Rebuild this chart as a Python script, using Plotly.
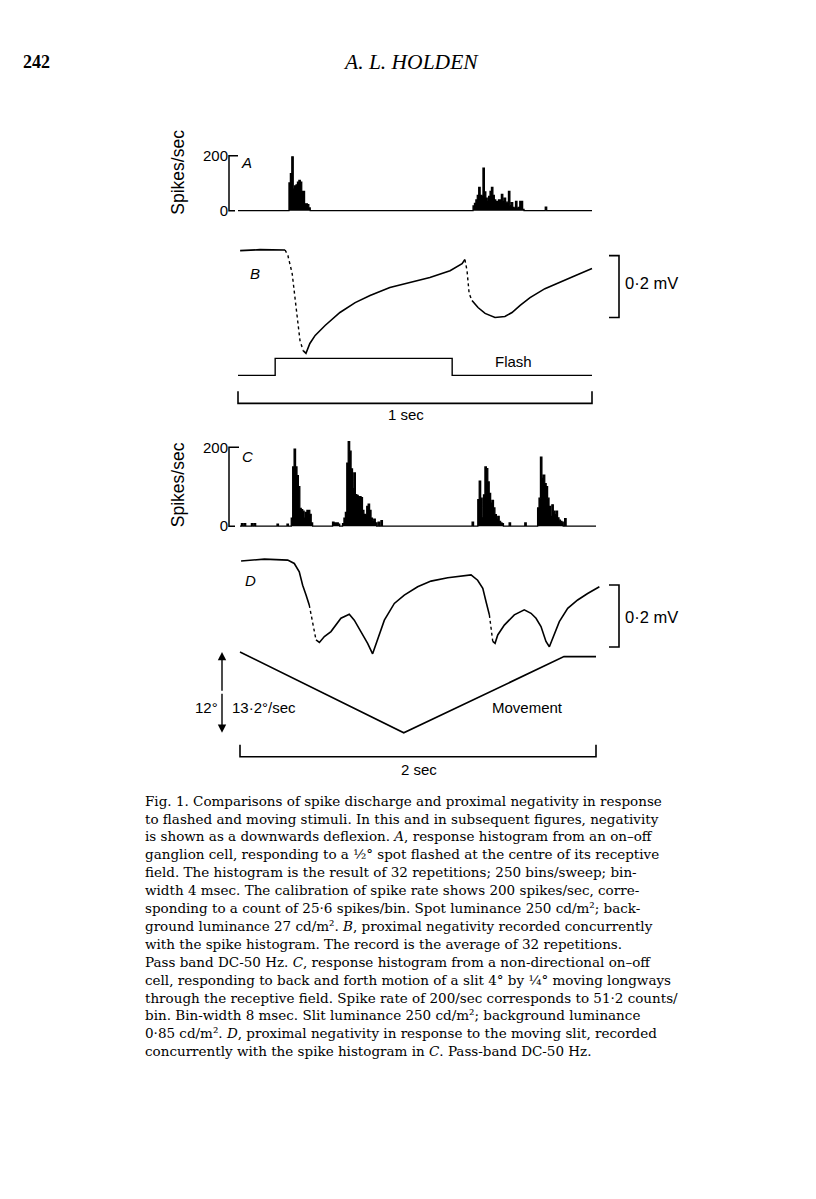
import plotly.graph_objects as go

W, H = 816, 1199

# ---------------- data ----------------
# A: response histogram to a flashed spot (4 ms bins, 250 bins/sweep), spikes/sec
A_BIN_S = 0.004
A_NBINS = 250
A_bins = [36, 37, 38, 39, 40, 41, 42, 43, 44, 45, 46, 47, 48, 49, 50,
          166, 167, 168, 169, 170, 171, 172, 173, 174, 175, 176, 177, 178, 179, 180,
          181, 182, 183, 184, 185, 186, 187, 188, 189, 190, 191, 192, 193, 194, 195,
          196, 197, 198, 199, 200, 201, 217]
A_rates = [101, 135, 196, 78, 90, 94, 104, 110, 104, 70, 70, 25, 25, 22, 10,
           17, 26, 39, 56, 85, 56, 52, 155, 68, 46, 34, 52, 70, 85, 56,
           39, 34, 34, 39, 39, 59, 34, 46, 31, 31, 70, 17, 29, 12, 7,
           34, 7, 12, 34, 34, 5, 13]

# B: proximal negativity (mV) vs time (s)
B_t = [0.006, 0.062, 0.133, 0.141, 0.153, 0.164, 0.175, 0.184, 0.192, 0.203,
       0.218, 0.246, 0.288, 0.331, 0.373, 0.429, 0.486, 0.542, 0.599, 0.633,
       0.641, 0.647, 0.653, 0.661, 0.678, 0.698, 0.726, 0.754, 0.774, 0.797,
       0.825, 0.867, 0.910, 0.952, 1.000]
B_mv = [0.000, 0.003, 0.002, -0.016, -0.074, -0.184, -0.290, -0.323, -0.332, -0.300,
        -0.274, -0.242, -0.200, -0.168, -0.145, -0.119, -0.103, -0.087, -0.065, -0.042,
        -0.029, -0.065, -0.139, -0.161, -0.184, -0.203, -0.216, -0.213, -0.200, -0.177,
        -0.152, -0.123, -0.103, -0.081, -0.058]
B_dotted = [(0.133, 0.184), (0.641, 0.661)]

# Flash stimulus (on = 1)
FLASH_t = [0.0, 0.105, 0.605, 1.0]
FLASH_on = [0, 1, 0, 0]

# C: response histogram to a moving slit (8 ms bins), spikes/sec
C_BIN_S = 0.008
C_NBINS = 250
C_bins = [1, 3, 8, 10, 26, 33,
          36, 37, 38, 39, 40, 41, 42, 43, 44, 45, 46, 47, 48, 49, 50,
          65, 66, 67, 68, 69, 72, 73, 74, 75, 76, 77, 78, 79, 80, 81, 82, 83, 84, 85,
          86, 87, 88, 89, 90, 91, 92, 93, 94, 95, 97, 99,
          163, 167, 168, 169, 170, 171, 172, 173, 174, 175, 176, 177, 178, 179, 180,
          181, 182, 183, 184, 189, 200,
          209, 210, 211, 212, 213, 214, 215, 216, 217, 218, 219, 220, 221, 222, 223,
          224, 225, 226, 228]
C_rates = [6, 6, 6, 6, 5, 5,
           20, 150, 195, 150, 128, 100, 45, 42, 38, 20, 35, 40, 40, 30, 8,
           10, 8, 8, 8, 5, 6, 20, 35, 160, 214, 190, 145, 95, 135, 80, 78, 75, 75, 72,
           40, 30, 28, 50, 56, 40, 20, 15, 18, 8, 10, 14,
           10, 67, 114, 71, 21, 79, 150, 146, 112, 83, 58, 65, 46, 29, 17,
           25, 12, 8, 6, 8, 8,
           46, 71, 175, 121, 129, 108, 100, 71, 50, 25, 54, 38, 29, 38, 21,
           15, 12, 10, 19]

# D: proximal negativity (mV) vs time (s), moving slit
D_t = [0.006, 0.137, 0.268, 0.305, 0.333, 0.352, 0.371, 0.389, 0.408, 0.427,
       0.446, 0.474, 0.511, 0.567, 0.614, 0.642, 0.680, 0.717, 0.745, 0.774,
       0.811, 0.867, 0.923, 0.998, 1.073, 1.167, 1.260, 1.298, 1.335, 1.364,
       1.382, 1.401, 1.420, 1.433, 1.448, 1.485, 1.541, 1.597, 1.635, 1.663,
       1.691, 1.719, 1.738, 1.757, 1.794, 1.841, 1.897, 1.953, 2.019]
D_mv = [-0.003, 0.003, 0.000, -0.011, -0.038, -0.081, -0.113, -0.145, -0.199, -0.258,
        -0.266, -0.247, -0.231, -0.188, -0.175, -0.194, -0.231, -0.269, -0.303, -0.253,
        -0.194, -0.140, -0.113, -0.086, -0.068, -0.057, -0.051, -0.048, -0.065, -0.091,
        -0.134, -0.177, -0.263, -0.269, -0.242, -0.210, -0.177, -0.161, -0.172, -0.188,
        -0.215, -0.263, -0.280, -0.253, -0.199, -0.156, -0.129, -0.108, -0.086]
D_dotted = [(0.389, 0.427), (1.401, 1.420)]

# Slit position (deg) vs time (s)
MOVE_t = [0.0, 0.92, 1.82, 2.0]
MOVE_deg = [12.0, 0.0, 11.3, 11.3]

# calibrations
CAL_RATE = 200
CAL_MV = 0.2
CAL_SEC_AB = 1.0
CAL_SEC_CD = 2.0
CAL_DEG = 12

caption_lines = [
    "Fig. 1. Comparisons of spike discharge and proximal negativity in response",
    "to flashed and moving stimuli. In this and in subsequent figures, negativity",
    "is shown as a downwards deflexion. <i>A</i>, response histogram from an on–off",
    "ganglion cell, responding to a ½° spot flashed at the centre of its receptive",
    "field. The histogram is the result of 32 repetitions; 250 bins/sweep; bin-",
    "width 4 msec. The calibration of spike rate shows 200 spikes/sec, corre-",
    "sponding to a count of 25·6 spikes/bin. Spot luminance 250 cd/m²; back-",
    "ground luminance 27 cd/m². <i>B</i>, proximal negativity recorded concurrently",
    "with the spike histogram. The record is the average of 32 repetitions.",
    "Pass band DC-50 Hz. <i>C</i>, response histogram from a non-directional on–off",
    "cell, responding to back and forth motion of a slit 4° by ¼° moving longways",
    "through the receptive field. Spike rate of 200/sec corresponds to 51·2 counts/",
    "bin. Bin-width 8 msec. Slit luminance 250 cd/m²; background luminance",
    "0·85 cd/m². <i>D</i>, proximal negativity in response to the moving slit, recorded",
    "concurrently with the spike histogram in <i>C</i>. Pass-band DC-50 Hz.",
]

# ---------------- layout helpers ----------------
def lin(pa, va, pb, vb):
    return lambda p: va + (p - pa) * (vb - va) / (pb - pa)

X_AB = lin(230, 0.0, 584, 1.0)
X_CD = lin(232, 0.0, 588, 2.0)
Y_A = lin(203, 0, 148, 200)
Y_B = lin(243, 0, 305, -0.2)
Y_F = lin(368, 0, 351, 1)
Y_C = lin(519, 0, 440, 200)
Y_D = lin(553, 0, 615, -0.2)
Y_M = lin(726, 0, 645, 12)

XDOM = (150, 700)
panels = [  # (index, xmap, ymap, top px, bottom px)
    (1, X_AB, Y_A, 112, 209),
    (2, X_AB, Y_B, 229, 351),
    (3, X_AB, Y_F, 349, 418),
    (4, X_CD, Y_C, 421, 525),
    (5, X_CD, Y_D, 541, 655),
    (6, X_CD, Y_M, 633, 773),
]

def ax(i, kind):
    return kind if i == 1 else f"{kind}{i}"

fig = go.Figure()
layout = dict(width=W, height=H, margin=dict(l=0, r=0, t=0, b=0), autosize=False,
              showlegend=False, paper_bgcolor="white", plot_bgcolor="rgba(0,0,0,0)")
for i, xm, ym, top, bot in panels:
    layout["xaxis" if i == 1 else f"xaxis{i}"] = dict(
        domain=[XDOM[0] / W, XDOM[1] / W], range=[xm(XDOM[0]), xm(XDOM[1])],
        visible=False, anchor=ax(i, "y"), fixedrange=True)
    layout["yaxis" if i == 1 else f"yaxis{i}"] = dict(
        domain=[1 - bot / H, 1 - top / H], range=[ym(bot), ym(top)],
        visible=False, anchor=ax(i, "x"), fixedrange=True)

AXIS_PX = 221
for i in (1, 4):
    key = "yaxis" if i == 1 else f"yaxis{i}"
    layout[key].update(visible=True, showgrid=False, zeroline=False, showline=False,
                       ticks="", tickvals=[0, CAL_RATE], ticktext=["0", str(CAL_RATE)],
                       tickfont=dict(family="Liberation Sans, Arial", size=15, color="black"),
                       anchor="free", position=AXIS_PX / W, ticklabelstandoff=1)
fig.update_layout(**layout)

BLACK = "black"

def hist_trace(bins, rates, nb, bw, i):
    vals = [0] * nb
    for k, r in zip(bins, rates):
        vals[k] = r
    xs = [k * bw for k in range(nb + 1)]
    ys = vals + [0]
    return go.Scatter(x=xs, y=ys, mode="lines", line=dict(shape="hv", color=BLACK, width=1.3),
                      fill="tozeroy", fillcolor=BLACK, xaxis=ax(i, "x"), yaxis=ax(i, "y"),
                      hoverinfo="skip")

def split_runs(ts, vs, intervals):
    solid_x, solid_y, dot_x, dot_y = [], [], [], []
    runs = []
    for k in range(len(ts) - 1):
        mid = 0.5 * (ts[k] + ts[k + 1])
        flag = any(a <= mid <= b for a, b in intervals)
        if runs and runs[-1][0] == flag:
            runs[-1][1].append(k + 1)
        else:
            runs.append((flag, [k, k + 1]))
    for flag, idx in runs:
        X, Y = (dot_x, dot_y) if flag else (solid_x, solid_y)
        X += [ts[j] for j in idx] + [None]
        Y += [vs[j] for j in idx] + [None]
    return solid_x, solid_y, dot_x, dot_y

def trace_pair(ts, vs, intervals, i):
    sx, sy, dx, dy = split_runs(ts, vs, intervals)
    return [
        go.Scatter(x=sx, y=sy, mode="lines", line=dict(color=BLACK, width=1.6),
                   xaxis=ax(i, "x"), yaxis=ax(i, "y"), hoverinfo="skip"),
        go.Scatter(x=dx, y=dy, mode="lines", line=dict(color=BLACK, width=1.4, dash="dot"),
                   xaxis=ax(i, "x"), yaxis=ax(i, "y"), hoverinfo="skip"),
    ]

def line_trace(xs, ys, i, width=1.5, shape="linear"):
    return go.Scatter(x=xs, y=ys, mode="lines", line=dict(color=BLACK, width=width, shape=shape),
                      xaxis=ax(i, "x"), yaxis=ax(i, "y"), hoverinfo="skip")

# A
fig.add_trace(hist_trace(A_bins, A_rates, A_NBINS, A_BIN_S, 1))
fig.add_trace(line_trace([X_AB(AXIS_PX + 9), X_AB(AXIS_PX), X_AB(AXIS_PX), X_AB(AXIS_PX + 6)],
                         [CAL_RATE, CAL_RATE, 0, 0], 1, 1.5))
# B
for tr in trace_pair(B_t, B_mv, B_dotted, 2):
    fig.add_trace(tr)
b_bot = Y_B(310)
fig.add_trace(line_trace([X_AB(601), X_AB(611), X_AB(611), X_AB(601)],
                         [b_bot + CAL_MV, b_bot + CAL_MV, b_bot, b_bot], 2, 1.6))
# Flash + time bar
fig.add_trace(line_trace(FLASH_t, FLASH_on, 3, 1.4, shape="hv"))
fig.add_trace(line_trace([0, 0, CAL_SEC_AB, CAL_SEC_AB],
                         [Y_F(384), Y_F(396), Y_F(396), Y_F(384)], 3, 1.6))
# C
fig.add_trace(hist_trace(C_bins, C_rates, C_NBINS, C_BIN_S, 4))
fig.add_trace(line_trace([X_CD(AXIS_PX + 10), X_CD(AXIS_PX), X_CD(AXIS_PX), X_CD(AXIS_PX + 6)],
                         [CAL_RATE, CAL_RATE, 0, 0], 4, 1.5))
# D
for tr in trace_pair(D_t, D_mv, D_dotted, 5):
    fig.add_trace(tr)
d_bot = Y_D(640)
fig.add_trace(line_trace([X_CD(601), X_CD(611), X_CD(611), X_CD(601)],
                         [d_bot + CAL_MV, d_bot + CAL_MV, d_bot, d_bot], 5, 1.6))
# Movement + time bar
fig.add_trace(line_trace(MOVE_t, MOVE_deg, 6, 1.6))
fig.add_trace(line_trace([0, 0, CAL_SEC_CD, CAL_SEC_CD],
                         [Y_M(738), Y_M(750), Y_M(750), Y_M(738)], 6, 1.6))

# 12 deg double arrow
xa = X_CD(214)
for tip, tail in ((CAL_DEG, CAL_DEG / 2), (0, CAL_DEG / 2)):
    fig.add_annotation(x=xa, y=tip, ax=xa, ay=tail, xref="x6", yref="y6", axref="x6", ayref="y6",
                       text="", showarrow=True, arrowhead=2, arrowsize=1.2, arrowwidth=1.4,
                       arrowcolor=BLACK)

SANS = "Liberation Sans, Arial, sans-serif"
SERIF = "DejaVu Serif, serif"

def txt(s, px, py, size=15, xanchor="center", family=SANS, angle=0, italic=False, bold=False):
    if italic:
        s = f"<i>{s}</i>"
    if bold:
        s = f"<b>{s}</b>"
    fig.add_annotation(x=px / W, y=1 - py / H, xref="paper", yref="paper", text=s,
                       showarrow=False, xanchor=xanchor, yanchor="middle", textangle=angle,
                       font=dict(family=family, size=size, color=BLACK))

# header
txt("242", 28, 54, size=18, family="Liberation Serif, serif", bold=True)
txt("A. L. HOLDEN", 403, 54, size=21.5, family="Liberation Serif, serif", italic=True)

# panel labels
txt("Spikes/sec", 170, 165, size=17.5, angle=-90)
txt("A", 238, 155, italic=True)
txt("B", 247, 266, italic=True)
txt("0·2 mV", 615, 275, size=16.5, xanchor="left")
txt("Flash", 485, 354, xanchor="left")
txt("1 sec", 398, 407)
txt("Spikes/sec", 170, 478, size=17.5, angle=-90)
txt("C", 239, 449, italic=True)
txt("D", 242, 573, italic=True)
txt("0·2 mV", 615, 610, size=16.5, xanchor="left")
txt("12°", 212, 701, xanchor="right")
txt("13·2°/sec", 222, 701, xanchor="left")
txt("Movement", 482, 701, xanchor="left")
txt("2 sec", 411, 763)

# caption
for n, line in enumerate(caption_lines):
    txt(line, 135, 794 + n * 17.93, size=13.5, xanchor="left", family=SERIF)

fig.write_html("out.html")
